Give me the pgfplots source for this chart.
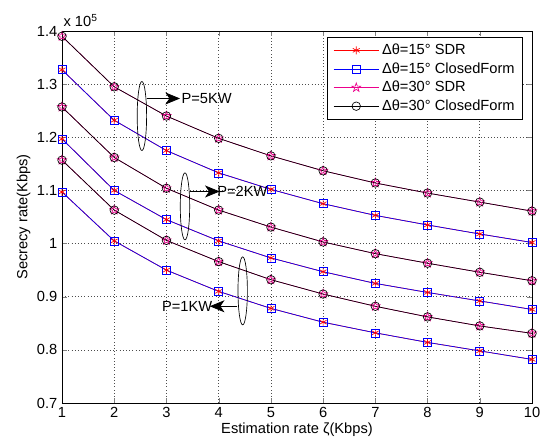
\documentclass[border=0pt]{standalone}
\usepackage{fontspec}
\setmainfont{Liberation Sans}
\usepackage{pgfplots}
\pgfplotsset{compat=1.18}
\usetikzlibrary{calc,arrows.meta}
\pgfdeclareplotmark{pentagram}{%
  \pgfpathmoveto{\pgfpointpolar{90}{\pgfplotmarksize}}%
  \pgfpathlineto{\pgfpointpolar{126}{0.382\pgfplotmarksize}}%
  \pgfpathlineto{\pgfpointpolar{162}{\pgfplotmarksize}}%
  \pgfpathlineto{\pgfpointpolar{198}{0.382\pgfplotmarksize}}%
  \pgfpathlineto{\pgfpointpolar{234}{\pgfplotmarksize}}%
  \pgfpathlineto{\pgfpointpolar{270}{0.382\pgfplotmarksize}}%
  \pgfpathlineto{\pgfpointpolar{306}{\pgfplotmarksize}}%
  \pgfpathlineto{\pgfpointpolar{342}{0.382\pgfplotmarksize}}%
  \pgfpathlineto{\pgfpointpolar{18}{\pgfplotmarksize}}%
  \pgfpathlineto{\pgfpointpolar{54}{0.382\pgfplotmarksize}}%
  \pgfpathclose\pgfusepathqstroke}
\begin{document}
\begin{tikzpicture}[font=\fontsize{11}{13}\selectfont]
\begin{axis}[
  scale only axis,
  width=352.5pt, height=279pt,
  xmin=1, xmax=10, ymin=0.7, ymax=1.4,
  xtick={1,2,3,4,5,6,7,8,9,10},
  ytick={0.7,0.8,0.9,1,1.1,1.2,1.3,1.4},
  /pgf/number format/assume math mode=true,
  yticklabel style={/pgf/number format/fixed},
  tick align=inside, tick pos=both,
  major tick length=4pt,
  grid=major,
  grid style={dotted, black!70, line width=0.5pt},
  axis line style={line width=0.6pt},
  xlabel={Estimation rate ζ(Kbps)},
  ylabel={Secrecy rate(Kbps)},
  xlabel style={yshift=3pt},
  ylabel style={yshift=-2pt},
  clip=false,
  legend cell align=left,
  legend style={at={(0.981,0.984)}, anchor=north east, draw=black, line width=0.6pt,
    row sep=0.5pt, inner xsep=4pt, inner ysep=3pt,
    font=\fontsize{11}{13}\selectfont},
  legend image code/.code={\draw[mark repeat=2,mark phase=2,#1] plot coordinates {(0cm,0cm)(0.6cm,0cm)(1.2cm,0cm)};},
]
% Delta theta = 15 deg SDR (red *)
\addplot[red, line width=0.5pt, mark=asterisk, mark size=3pt, mark options={solid}] coordinates {
 (1,1.327)(2,1.232)(3,1.175)(4,1.133)(5,1.102)(6,1.075)(7,1.053)(8,1.035)(9,1.018)(10,1.002)};
\addlegendentry{Δθ=15° SDR}
% Delta theta = 15 deg ClosedForm (blue square)
\addplot[blue, line width=0.5pt, mark=square, mark size=3pt] coordinates {
 (1,1.327)(2,1.232)(3,1.175)(4,1.133)(5,1.102)(6,1.075)(7,1.053)(8,1.035)(9,1.018)(10,1.002)};
\addlegendentry{Δθ=15° ClosedForm}
% Delta theta = 30 deg SDR (magenta pentagram)
\addplot[magenta, line width=0.5pt, mark=pentagram, mark size=3.5pt] coordinates {
 (1,1.390)(2,1.295)(3,1.240)(4,1.198)(5,1.165)(6,1.137)(7,1.114)(8,1.095)(9,1.078)(10,1.061)};
\addlegendentry{Δθ=30° SDR}
% Delta theta = 30 deg ClosedForm (black circle)
\addplot[black, line width=0.5pt, mark=o, mark size=3.2pt] coordinates {
 (1,1.390)(2,1.295)(3,1.240)(4,1.198)(5,1.165)(6,1.137)(7,1.114)(8,1.095)(9,1.078)(10,1.061)};
\addlegendentry{Δθ=30° ClosedForm}

% P = 2KW
\addplot[red, line width=0.5pt, mark=asterisk, mark size=3pt, forget plot] coordinates {
 (1,1.197)(2,1.100)(3,1.045)(4,1.005)(5,0.973)(6,0.947)(7,0.925)(8,0.908)(9,0.892)(10,0.876)};
\addplot[blue, line width=0.5pt, mark=square, mark size=3pt, forget plot] coordinates {
 (1,1.197)(2,1.100)(3,1.045)(4,1.005)(5,0.973)(6,0.947)(7,0.925)(8,0.908)(9,0.892)(10,0.876)};
\addplot[magenta, line width=0.5pt, mark=pentagram, mark size=3.5pt, forget plot] coordinates {
 (1,1.257)(2,1.162)(3,1.104)(4,1.063)(5,1.031)(6,1.003)(7,0.981)(8,0.963)(9,0.946)(10,0.930)};
\addplot[black, line width=0.5pt, mark=o, mark size=3.2pt, forget plot] coordinates {
 (1,1.257)(2,1.162)(3,1.104)(4,1.063)(5,1.031)(6,1.003)(7,0.981)(8,0.963)(9,0.946)(10,0.930)};

% P = 1KW
\addplot[red, line width=0.5pt, mark=asterisk, mark size=3pt, forget plot] coordinates {
 (1,1.097)(2,1.005)(3,0.950)(4,0.910)(5,0.878)(6,0.852)(7,0.832)(8,0.814)(9,0.798)(10,0.782)};
\addplot[blue, line width=0.5pt, mark=square, mark size=3pt, forget plot] coordinates {
 (1,1.097)(2,1.005)(3,0.950)(4,0.910)(5,0.878)(6,0.852)(7,0.832)(8,0.814)(9,0.798)(10,0.782)};
\addplot[magenta, line width=0.5pt, mark=pentagram, mark size=3.5pt, forget plot] coordinates {
 (1,1.157)(2,1.063)(3,1.006)(4,0.966)(5,0.932)(6,0.905)(7,0.882)(8,0.862)(9,0.845)(10,0.831)};
\addplot[black, line width=0.5pt, mark=o, mark size=3.2pt, forget plot] coordinates {
 (1,1.157)(2,1.063)(3,1.006)(4,0.966)(5,0.932)(6,0.905)(7,0.882)(8,0.862)(9,0.845)(10,0.831)};

% annotations
\draw[line width=0.5pt] (axis cs:2.53,1.240) ellipse [x radius=0.09, y radius=0.065];
\draw[line width=0.6pt, -{Stealth[length=11pt,width=9pt,inset=3pt]}] (axis cs:2.62,1.273) -- (axis cs:3.26,1.273);
\node[anchor=west, inner sep=1pt] at (axis cs:3.26,1.273) {P=5KW};

\draw[line width=0.5pt] (axis cs:3.355,1.070) ellipse [x radius=0.09, y radius=0.063];
\draw[line width=0.6pt, -{Stealth[length=11pt,width=9pt,inset=3pt]}] (axis cs:3.45,1.098) -- (axis cs:4.02,1.098);
\node[anchor=west, inner sep=0pt, xshift=-2pt] at (axis cs:4.02,1.098) {P=2KW};

\draw[line width=0.5pt] (axis cs:4.46,0.911) ellipse [x radius=0.09, y radius=0.064];
\draw[line width=0.6pt, -{Stealth[length=11pt,width=9pt,inset=3pt]}] (axis cs:4.36,0.882) -- (axis cs:3.83,0.882);
\node[anchor=east, inner sep=0pt, xshift=2pt] at (axis cs:3.83,0.882) {P=1KW};

\node[anchor=south west, inner sep=0pt] at ($(rel axis cs:0,1)+(1pt,3pt)$) {x 10\textsuperscript{5}};
\end{axis}
\pgfresetboundingbox
\path[use as bounding box] ($(current axis.south west)+(-46.5pt,-31.5pt)$) rectangle ($(current axis.north east)+(7.5pt,23.25pt)$);
\end{tikzpicture}
\end{document}
